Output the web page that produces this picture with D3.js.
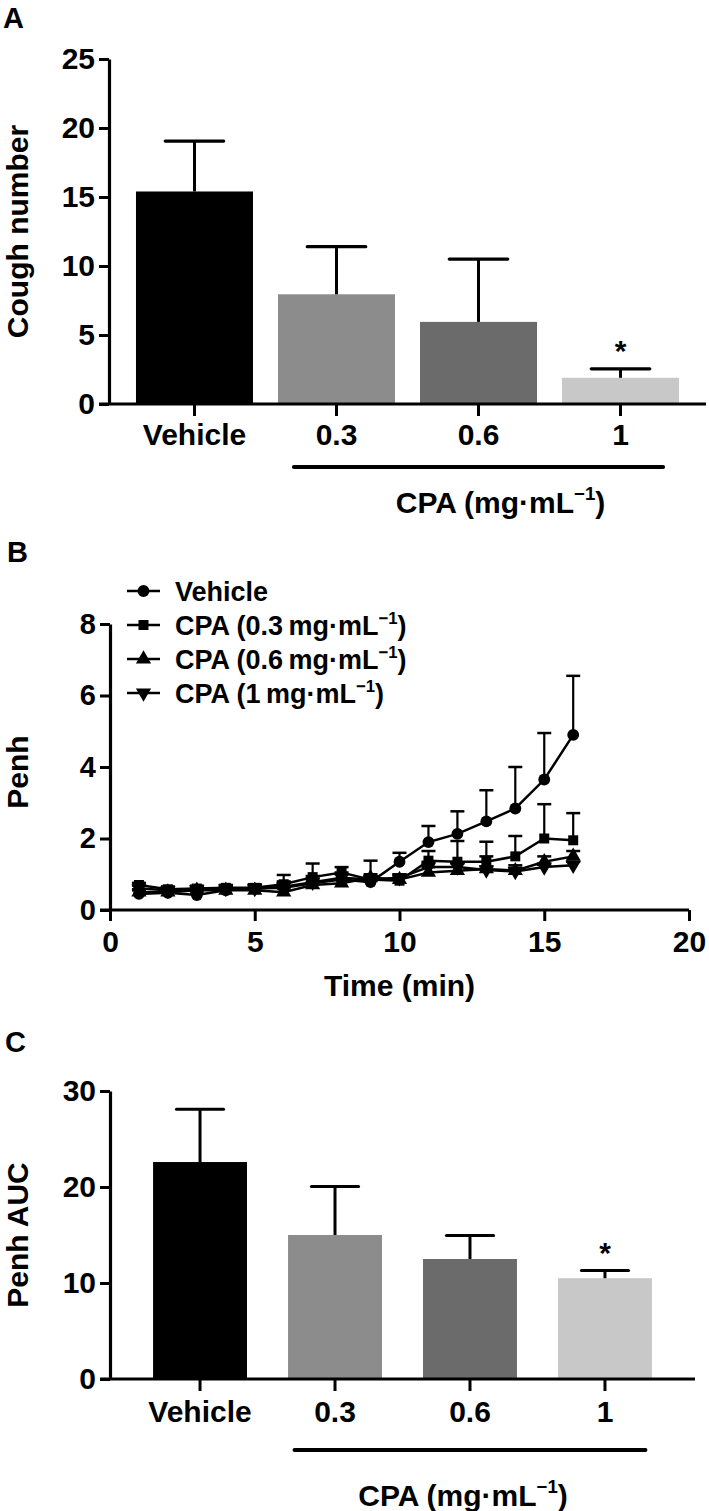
<!DOCTYPE html>
<html><head><meta charset="utf-8">
<script src="https://cdn.jsdelivr.net/npm/d3@7"></script>
<style>
body{margin:0;background:#fff}
svg text{font-family:"Liberation Sans",Arial,sans-serif;font-weight:bold;fill:#000}
</style>
</head><body>
<svg id="chart" width="709" height="1511"></svg>
<script>
// ---------- data ----------
const categories = ["Vehicle", "0.3", "0.6", "1"];
const barColors = ["#000000", "#8c8c8c", "#6b6b6b", "#c8c8c8"];
const coughMean = [15.4, 7.95, 5.95, 1.9];
const coughErr  = [3.65, 3.45, 4.55, 0.65];
const coughSig  = [false, false, false, true];
const coughTicks = [0, 5, 10, 15, 20, 25];

const aucMean = [22.6, 15.0, 12.5, 10.5];
const aucErr  = [5.5, 5.05, 2.45, 0.8];
const aucSig  = [false, false, false, true];
const aucTicks = [0, 10, 20, 30];

const timeMin = [1,2,3,4,5,6,7,8,9,10,11,12,13,14,15,16];
const penhVehicle = [0.45,0.48,0.42,0.55,0.6,0.62,0.75,0.85,0.78,1.35,1.9,2.13,2.48,2.84,3.65,4.9];
const penhVehicleErr = [0.1,0.08,0.1,0.1,0.1,0.18,0.2,0.2,0.6,0.25,0.45,0.63,0.87,1.16,1.3,1.65];
const penh03 = [0.7,0.58,0.6,0.62,0.62,0.72,0.92,1.05,0.85,0.82,1.38,1.35,1.35,1.5,2.0,1.95];
const penh03Err = [0.06,0.08,0.08,0.08,0.1,0.26,0.38,0.15,0.1,0.15,0.27,0.58,0.56,0.57,0.96,0.76];
const penh06 = [0.5,0.5,0.55,0.55,0.55,0.5,0.7,0.75,0.9,0.85,1.05,1.1,1.15,1.1,1.35,1.5];
const penh06Err = [0.08,0.08,0.08,0.08,0.08,0.1,0.1,0.12,0.1,0.1,0.15,0.2,0.35,0.15,0.15,0.15];
const penh1 = [0.6,0.55,0.58,0.6,0.6,0.65,0.78,0.9,0.85,0.9,1.2,1.2,1.12,1.08,1.2,1.25];
const penh1Err = [0.08,0.08,0.08,0.08,0.08,0.1,0.1,0.1,0.08,0.1,0.15,0.12,0.1,0.1,0.1,0.1];
const penhTicksY = [0, 2, 4, 6, 8];
const penhTicksX = [0, 5, 10, 15, 20];
const legendNames = ["Vehicle", "0.3", "0.6", "1"];

// ---------- helpers ----------
const svg = d3.select("#chart");
svg.append("rect").attr("width", 709).attr("height", 1511).attr("fill", "#fff");

function styleAxis(g, fs) {
  g.select(".domain").attr("stroke", "#000").attr("stroke-width", 3.2);
  g.selectAll(".tick line").attr("stroke", "#000").attr("stroke-width", 3);
  g.selectAll(".tick text").style("font-size", fs + "px").attr("fill", "#000");
  g.attr("font-family", null).attr("font-size", null);
}

function cpaText(parent, x, y, size, pre, anchor) {
  const t = parent.append("text").attr("x", x).attr("y", y)
    .attr("text-anchor", anchor).style("font-size", size + "px");
  t.append("tspan").text(pre + "mg\u00b7mL");
  t.append("tspan").text("\u22121").attr("dy", -size * 0.42).style("font-size", (size * 0.62) + "px");
  t.append("tspan").text(")").attr("dy", size * 0.42);
  return t;
}

function barPanel(opt) {
  const g = svg.append("g");
  const x = d3.scaleBand().domain(categories).range(opt.xr)
    .paddingInner(opt.pi).paddingOuter(opt.po);
  const y = d3.scaleLinear().domain(opt.yd).range(opt.yr);

  // bars
  g.selectAll("rect.bar").data(categories).join("rect")
    .attr("x", d => x(d)).attr("width", x.bandwidth())
    .attr("y", (d, i) => y(opt.mean[i]))
    .attr("height", (d, i) => y(0) - y(opt.mean[i]))
    .attr("fill", (d, i) => barColors[i]);

  // error bars (upper)
  const cx = d => x(d) + x.bandwidth() / 2;
  const cw = x.bandwidth() / 2;
  g.selectAll("line.ev").data(categories).join("line")
    .attr("x1", cx).attr("x2", cx)
    .attr("y1", (d, i) => y(opt.mean[i]))
    .attr("y2", (d, i) => y(opt.mean[i] + opt.err[i]))
    .attr("stroke", "#000").attr("stroke-width", 3);
  g.selectAll("line.ec").data(categories).join("line")
    .attr("x1", d => cx(d) - cw / 2).attr("x2", d => cx(d) + cw / 2)
    .attr("y1", (d, i) => y(opt.mean[i] + opt.err[i]))
    .attr("y2", (d, i) => y(opt.mean[i] + opt.err[i]))
    .attr("stroke", "#000").attr("stroke-width", 3.2).attr("stroke-linecap", "round");
  // significance stars
  g.selectAll("text.star").data(categories.filter((d, i) => opt.sig[i])).join("text")
    .attr("x", cx).attr("text-anchor", "middle")
    .attr("y", d => { const i = categories.indexOf(d); return y(opt.mean[i] + opt.err[i]) - 8; })
    .style("font-size", "30px").text("*");

  // axes
  const gy = g.append("g").attr("transform", `translate(${opt.xr[0]},0)`)
    .call(d3.axisLeft(y).tickValues(opt.ticks).tickSize(10).tickSizeOuter(0).tickPadding(4));
  styleAxis(gy, 30);
  const gx = g.append("g").attr("transform", `translate(0,${y(0)})`)
    .call(d3.axisBottom(x).tickSize(12).tickSizeOuter(0));
  styleAxis(gx, 30);
  gx.select(".domain").attr("d", `M${opt.xr[0] - 10},0H${opt.xr[1]}`);
  gx.selectAll(".tick text").attr("dy", null).attr("y", opt.labelDy);

  // bracket under CPA groups
  const bx0 = cx(categories[1]) - 0.3 * x.step();
  const bx1 = cx(categories[3]) + 0.3 * x.step();
  g.append("line").attr("x1", bx0).attr("x2", bx1)
    .attr("y1", opt.bracketY).attr("y2", opt.bracketY)
    .attr("stroke", "#000").attr("stroke-width", 4).attr("stroke-linecap", "round");
  cpaText(g, (bx0 + bx1) / 2 + opt.cpaShift, opt.cpaY, 30, "CPA (", "middle");

  // y title
  g.append("text").attr("transform", `translate(${opt.titleX},${(opt.yr[0] + opt.yr[1]) / 2}) rotate(-90)`)
    .attr("text-anchor", "middle").style("font-size", "30px").text(opt.title);
  // panel letter
  g.append("text").attr("x", opt.letterX).attr("y", opt.letterY).style("font-size", "29px").text(opt.letter);
}

// ---------- Panel A ----------
barPanel({
  xr: [109, 706], pi: 0.176, po: 0.19, yd: [0, 25], yr: [404, 59],
  mean: coughMean, err: coughErr, sig: coughSig, ticks: coughTicks,
  labelDy: 41, bracketY: 467, cpaY: 513, cpaShift: 22,
  title: "Cough number", titleX: 28, letter: "A", letterX: 3, letterY: 28
});

// ---------- Panel C ----------
barPanel({
  xr: [110, 695], pi: 0.304, po: 0.319, yd: [0, 30], yr: [1379, 1091],
  mean: aucMean, err: aucErr, sig: aucSig, ticks: aucTicks,
  labelDy: 43, bracketY: 1450, cpaY: 1506, cpaShift: -7,
  title: "Penh AUC", titleX: 28, letter: "C", letterX: 5, letterY: 1052
});

// ---------- Panel B ----------
(function () {
  const g = svg.append("g");
  const x = d3.scaleLinear().domain([0, 20]).range([110, 689]);
  const y = d3.scaleLinear().domain([0, 8]).range([910, 624]);
  const series = [
    { name: legendNames[3], vals: penh1, err: penh1Err, sym: d3.symbolTriangle, rot: 180, size: 100 },
    { name: legendNames[2], vals: penh06, err: penh06Err, sym: d3.symbolTriangle, rot: 0, size: 100 },
    { name: legendNames[1], vals: penh03, err: penh03Err, sym: d3.symbolSquare, rot: 0, size: 100 },
    { name: legendNames[0], vals: penhVehicle, err: penhVehicleErr, sym: d3.symbolCircle, rot: 0, size: 110 }
  ];
  const line = d3.line().x((d, i) => x(timeMin[i])).y(d => y(d));
  series.forEach(s => {
    const sg = g.append("g");
    // error bars
    sg.selectAll("line.v").data(s.vals).join("line")
      .attr("x1", (d, i) => x(timeMin[i])).attr("x2", (d, i) => x(timeMin[i]))
      .attr("y1", d => y(d)).attr("y2", (d, i) => y(d + s.err[i]))
      .attr("stroke", "#000").attr("stroke-width", 2.2);
    sg.selectAll("line.c").data(s.vals).join("line")
      .attr("x1", (d, i) => x(timeMin[i]) - 7).attr("x2", (d, i) => x(timeMin[i]) + 7)
      .attr("y1", (d, i) => y(d + s.err[i])).attr("y2", (d, i) => y(d + s.err[i]))
      .attr("stroke", "#000").attr("stroke-width", 2.5);
    sg.append("path").datum(s.vals).attr("d", line)
      .attr("fill", "none").attr("stroke", "#000").attr("stroke-width", 2.5);
    sg.selectAll("path.m").data(s.vals).join("path")
      .attr("d", d3.symbol().type(s.sym).size(s.size))
      .attr("transform", (d, i) => `translate(${x(timeMin[i])},${y(d)}) rotate(${s.rot})`)
      .attr("fill", "#000");
  });

  const gy = g.append("g").attr("transform", `translate(${x(0)},0)`)
    .call(d3.axisLeft(y).tickValues(penhTicksY).tickSize(10).tickSizeOuter(0).tickPadding(4));
  styleAxis(gy, 29);
  const gx = g.append("g").attr("transform", `translate(0,${y(0)})`)
    .call(d3.axisBottom(x).tickValues(penhTicksX).tickSize(11).tickSizeOuter(0));
  styleAxis(gx, 30);
  gx.select(".domain").attr("d", `M${x(0) - 10},0H${x(20)}`);
  gx.selectAll(".tick text").attr("dy", null).attr("y", 42);

  g.append("text").attr("x", (x(0) + x(20)) / 2).attr("y", 996).attr("text-anchor", "middle")
    .style("font-size", "30px").text("Time (min)");
  g.append("text").attr("transform", `translate(28,${(y(0) + y(8)) / 2 + 5}) rotate(-90)`)
    .attr("text-anchor", "middle").style("font-size", "30px").text("Penh");
  g.append("text").attr("x", 7).attr("y", 562).style("font-size", "29px").text("B");

  // legend
  const legRows = [591, 625, 659, 693];
  const legOrder = series.slice().reverse();
  legOrder.forEach((s, k) => {
    const ly = legRows[k];
    g.append("line").attr("x1", 127).attr("x2", 160).attr("y1", ly).attr("y2", ly)
      .attr("stroke", "#000").attr("stroke-width", 2.5);
    g.append("path").attr("d", d3.symbol().type(s.sym).size(s.size))
      .attr("transform", `translate(143.5,${ly}) rotate(${s.rot})`).attr("fill", "#000");
    if (k === 0) {
      g.append("text").attr("x", 175).attr("y", ly + 10).style("font-size", "27px").text(s.name);
    } else {
      cpaText(g, 175, ly + 10, 27, "CPA (" + s.name + "\u2009", "start");
    }
  });
})();
</script>
</body></html>
